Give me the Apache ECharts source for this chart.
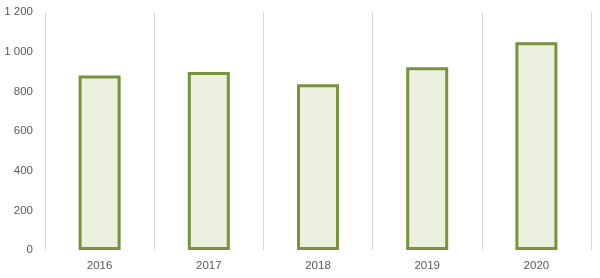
<!DOCTYPE html>
<html>
<head>
<meta charset="utf-8">
<script src="https://cdn.jsdelivr.net/npm/echarts@6/dist/echarts.min.js"></script>
<style>html,body{margin:0;padding:0;background:#fff}#c{width:600px;height:278px}</style>
</head>
<body>
<div id="c"></div>
<script>
const categories = ['2016', '2017', '2018', '2019', '2020'];
const values = [880, 898, 836, 922, 1047];
const yTicks = { min: 0, max: 1200, interval: 200 };

const chart = echarts.init(document.getElementById('c'), null, { renderer: 'canvas' });
chart.setOption({
  animation: false,
  backgroundColor: '#ffffff',
  grid: { left: 45, right: 9, top: 12, bottom: 28 },
  xAxis: {
    type: 'category',
    data: categories,
    boundaryGap: true,
    axisLine: { show: false },
    axisTick: { show: false },
    splitLine: { show: true, lineStyle: { color: '#d9d9d9', width: 1 } },
    axisLabel: { color: '#595959', fontSize: 11.5, fontFamily: 'Liberation Sans', margin: 10 }
  },
  yAxis: {
    type: 'value',
    min: yTicks.min, max: yTicks.max, interval: yTicks.interval,
    axisLine: { show: false },
    axisTick: { show: false },
    splitLine: { show: false },
    axisLabel: {
      color: '#595959', fontSize: 11.5, fontFamily: 'Liberation Sans', margin: 12,
      formatter: v => String(v).replace(/\B(?=(\d{3})+(?!\d))/g, ' ')
    }
  },
  series: [{
    type: 'bar',
    data: values,
    barWidth: 42,
    itemStyle: { color: '#ebf1de', borderColor: '#77933c', borderWidth: 3 }
  }]
});
</script>
</body>
</html>
